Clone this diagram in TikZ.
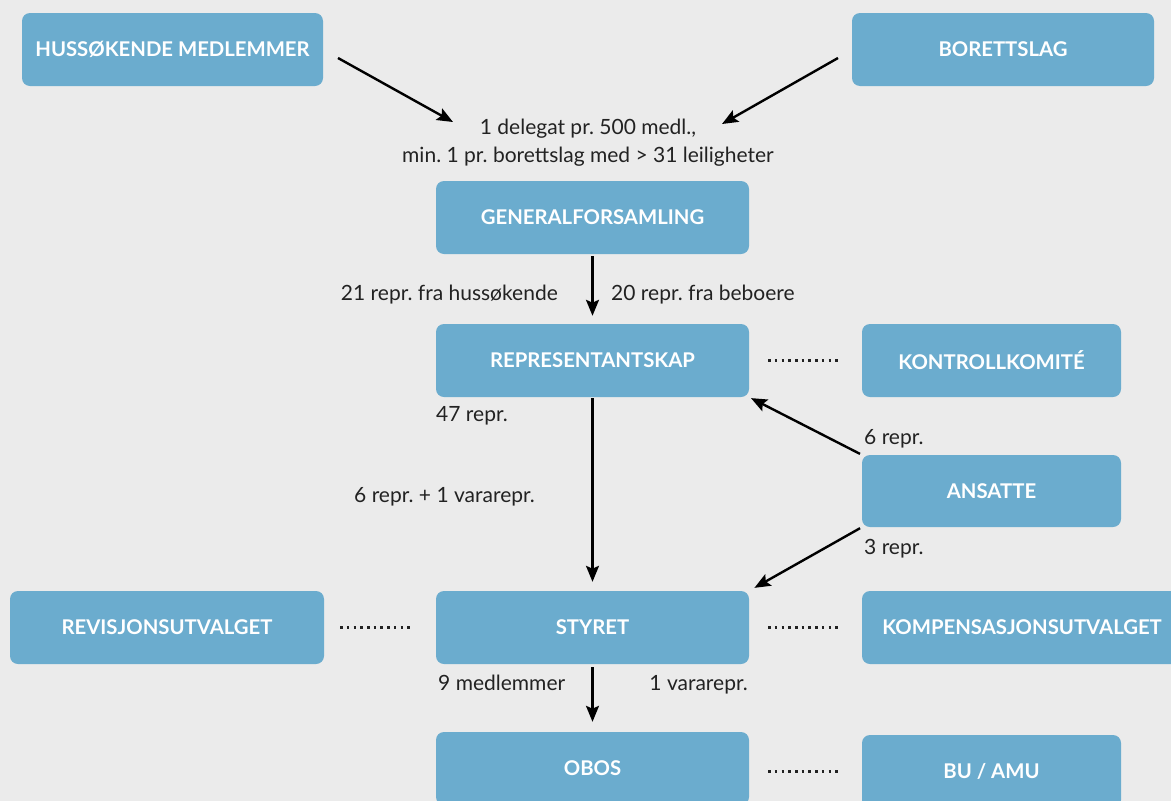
\documentclass[tikz,border=0pt]{standalone}
\usepackage{fontspec}
\setmainfont{Lato}
\usetikzlibrary{arrows.meta}
\definecolor{bg}{HTML}{EBEBEB}
\definecolor{boxc}{HTML}{6BACCE}
\definecolor{txt}{HTML}{222222}
\tikzset{
  box/.style={fill=boxc, rounded corners=8pt, text=white, font=\fontsize{20.3}{24}\selectfont\bfseries,
    minimum height=73pt, inner sep=0pt, anchor=center},
  lbl/.style={text=txt, font=\fontsize{21}{28}\selectfont\frenchspacing, inner sep=0pt},
  arr/.style={line width=2.4pt, draw=black, -{Stealth[length=16pt,width=13pt,inset=3pt]}},
  dots/.style={line width=2.5pt, draw=txt, dash pattern=on 2.5pt off 4.2pt},
}
\begin{document}
\begin{tikzpicture}[x=1pt,y=-1pt]
\fill[bg] (0,0) rectangle (1171,801);
\useasboundingbox (0,0) rectangle (1171,801);
\clip (0,0) rectangle (1171,801);
% boxes
\node[box, minimum width=301pt] (huss) at (172.5,49.5) {HUSSØKENDE MEDLEMMER};
\node[box, minimum width=302pt] (bor) at (1003,49.5) {BORETTSLAG};
\node[box, minimum width=313pt] (gen) at (592.5,217.5) {GENERALFORSAMLING};
\node[box, minimum width=313pt] (rep) at (592.5,360.5) {REPRESENTANTSKAP};
\node[box, minimum width=259pt] (kon) at (991.5,360.5) {KONTROLLKOMITÉ};
\node[box, minimum width=259pt, minimum height=72pt] (ans) at (991.5,491) {ANSATTE};
\node[box, minimum width=314pt] (rev) at (167,627.5) {REVISJONSUTVALGET};
\node[box, minimum width=313pt] (sty) at (592.5,627.5) {STYRET};
\node[box, minimum width=320pt] (komp) at (1022,627.5) {KOMPENSASJONSUTVALGET};
\node[box, minimum width=313pt] (obos) at (592.5,768.5) {OBOS};
\node[box, minimum width=259pt] (bu) at (991.5,771.5) {BU / AMU};
% labels
\node[lbl, align=center] (del) at (588,143) {1 delegat pr. 500 medl.,\\min. 1 pr. borettslag med > 31 leiligheter};
\node[lbl, anchor=base east] (l21) at (558,300) {21 repr. fra hussøkende};
\node[lbl, anchor=base west] (l20) at (611,300) {20 repr. fra beboere};
\node[lbl, anchor=base west] (l47) at (436,421) {47 repr.};
\node[lbl, anchor=base west] (l6a) at (864,444) {6 repr.};
\node[lbl, anchor=base west] (l6b) at (354,502) {6 repr. + 1 vararepr.};
\node[lbl, anchor=base west] (l3) at (864,554) {3 repr.};
\node[lbl, anchor=base west] (l9) at (438,690) {9 medlemmer};
\node[lbl, anchor=base east] (l1v) at (748,690) {1 vararepr.};
% arrow end points
\coordinate (a1s) at (338,58);
\coordinate (a1e) at (453,122);
\coordinate (a2s) at (838,58);
\coordinate (a2e) at (722,124);
\draw[arr] (a1s) -- (a1e);
\draw[arr] (a2s) -- (a2e);
\draw[arr, shorten <=2pt, shorten >=8pt] (gen.south) -- (rep.north);
\draw[arr, shorten <=1pt, shorten >=9pt] (rep.south) -- (sty.north);
\draw[arr, shorten <=3pt, shorten >=10pt] (sty.south) -- (obos.north);
\draw[arr, shorten <=2pt, shorten >=2pt] (ans.north west) -- (rep.south east);
\draw[arr, shorten <=2pt, shorten >=6pt] (ans.south west) -- (sty.north east);
% dotted
\draw[dots, shorten <=19pt, shorten >=20pt] (rep.east) -- (kon.west);
\draw[dots, shorten <=19pt, shorten >=20pt] (sty.east) -- (komp.west);
\draw[dots, shorten <=16pt, shorten >=22pt] (rev.east) -- (sty.west);
\draw[dots, shorten <=19pt, shorten >=20pt] (obos.east |- bu.west) -- (bu.west);
\end{tikzpicture}
\end{document}
